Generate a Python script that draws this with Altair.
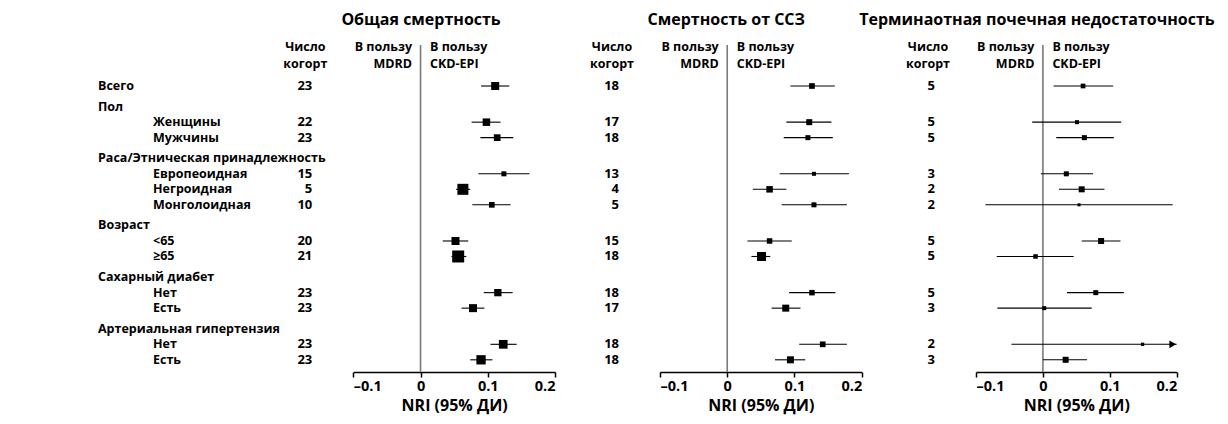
import altair as alt
import pandas as pd

# ---------------- data ----------------
panel_titles = ["Общая смертность", "Смертность от ССЗ", "Терминаотная почечная недостаточность"]

groups = ["Всего", "Пол", "Раса/Этническая принадлежность", "Возраст", "Сахарный диабет",
          "Артериальная гипертензия"]
subgroups = [[], ["Женщины", "Мужчины"], ["Европеоидная", "Негроидная", "Монголоидная"],
             ["<65", "≥65"], ["Нет", "Есть"], ["Нет", "Есть"]]

# order of data rows: Всего, Женщины, Мужчины, Европ., Негр., Монгол., <65, ≥65, СД нет, СД есть, АГ нет, АГ есть
n_all = [23, 22, 23, 15, 5, 10, 20, 21, 23, 23, 23, 23]
est_all = [0.111, 0.098, 0.114, 0.124, 0.063, 0.106, 0.052, 0.056, 0.115, 0.078, 0.123, 0.090]
lo_all = [0.090, 0.076, 0.089, 0.086, 0.053, 0.077, 0.033, 0.046, 0.094, 0.061, 0.104, 0.074]
hi_all = [0.132, 0.119, 0.138, 0.162, 0.074, 0.134, 0.071, 0.068, 0.137, 0.095, 0.143, 0.107]
w_all = [8, 7.5, 6.7, 5, 11, 5.7, 8, 12, 7.3, 8, 8.7, 9.3]

n_cvd = [18, 17, 18, 13, 4, 5, 15, 18, 18, 17, 18, 18]
est_cvd = [0.126, 0.122, 0.120, 0.129, 0.063, 0.129, 0.063, 0.051, 0.126, 0.087, 0.142, 0.094]
lo_cvd = [0.094, 0.088, 0.084, 0.078, 0.038, 0.081, 0.030, 0.036, 0.092, 0.066, 0.107, 0.071]
hi_cvd = [0.160, 0.155, 0.157, 0.181, 0.088, 0.178, 0.096, 0.064, 0.161, 0.109, 0.178, 0.116]
w_cvd = [5.7, 6, 5, 4, 6.5, 5, 5.5, 9, 5.5, 7, 5.7, 7]

n_esrd = [5, 5, 5, 3, 2, 2, 5, 5, 5, 3, 2, 3]
est_esrd = [0.060, 0.051, 0.062, 0.035, 0.058, 0.054, 0.087, -0.011, 0.079, 0.002, 0.149, 0.034]
lo_esrd = [0.016, -0.016, 0.020, -0.003, 0.024, -0.086, 0.058, -0.069, 0.036, -0.068, -0.047, 0.000]
hi_esrd = [0.105, 0.117, 0.106, 0.075, 0.092, 0.194, 0.116, 0.046, 0.121, 0.073, None, 0.066]
w_esrd = [4.7, 4, 5, 5, 6, 3, 6, 4.5, 5, 4, 3.3, 6]

panels = [
    (n_all, est_all, lo_all, hi_all, w_all),
    (n_cvd, est_cvd, lo_cvd, hi_cvd, w_cvd),
    (n_esrd, est_esrd, lo_esrd, hi_esrd, w_esrd),
]

ticks = [-0.1, 0, 0.1, 0.2]
x_domain = [-0.1, 0.2]

# ---------------- layout (styles / positions) ----------------
x_ranges = [[345.3, 547.0], [652.0, 853.7], [968.0, 1168.7]]
title_offsets = [0.5, -1, -6]
GAP = 1.333  # extra spacing before group headers (row units)
FONT = "Open Sans"

# row positions for labels and data
label_rows = []
data_pos = []
pos = 0.0
for gi, (g, subs) in enumerate(zip(groups, subgroups)):
    if gi > 0:
        pos += GAP
    label_rows.append({"label": g, "pos": pos, "lvl": 0})
    if not subs:
        data_pos.append(pos)
    for s in subs:
        pos += 1
        label_rows.append({"label": s, "pos": pos, "lvl": 1})
        data_pos.append(pos)
max_pos = pos

labels_df = pd.DataFrame(label_rows)

y_scale = alt.Scale(domain=[0, max_pos], range=[78, 78 + 15.5 * max_pos], nice=False, zero=False)


def label_layer(level, xpix):
    return alt.Chart(labels_df).transform_filter(f"datum.lvl == {level}").mark_text(
        align="left", baseline="middle", font=FONT, fontSize=12.5, fontWeight="bold", color="black"
    ).encode(
        x=alt.value(xpix),
        y=alt.Y("pos:Q", scale=y_scale, axis=None),
        text="label:N",
    )


labels_layers = [label_layer(0, 90), label_layer(1, 145)]

one = pd.DataFrame({"a": [0]})

panel_layers = []
for p, (n, est, lo, hi, w) in enumerate(panels):
    df = pd.DataFrame({"pos": data_pos, "n": n, "est": est, "lo": lo, "hi": hi, "w": w})
    xs = alt.Scale(domain=x_domain, range=x_ranges[p], nice=False, zero=False)
    axis = alt.Axis(
        orient="bottom", values=ticks, title="NRI (95% ДИ)",
        labelExpr="datum.value == 0 ? '0' : (datum.value < 0 ? '–' : '') + format(abs(datum.value), '.1f')",
        domainColor="black", domainWidth=1.5, tickColor="black", tickWidth=1.5, tickSize=5,
        labelFont=FONT, labelFontSize=14.5, labelFontWeight="bold", labelColor="black", labelPadding=2,
        titleFont=FONT, titleFontSize=16, titleFontWeight="bold", titleColor="black", titlePadding=5,
        grid=False,
    )
    base = alt.Chart(df).transform_calculate(
        hi_c="isValid(datum.hi) ? datum.hi : 0.2", sz="datum.w * datum.w"
    )
    y = alt.Y("pos:Q", scale=y_scale, axis=None)

    zero_line = alt.Chart(one).mark_rule(color="#7a7a7a", strokeWidth=1.6).encode(
        x=alt.X(datum=0, scale=xs, axis=axis), y=alt.value(37), y2=alt.value(364)
    )
    ci = base.mark_rule(color="black", strokeWidth=1.1).encode(
        x=alt.X("lo:Q", scale=xs, axis=axis), x2="hi_c:Q", y=y
    )
    sq = base.mark_square(color="black", filled=True, opacity=1).encode(
        x=alt.X("est:Q", scale=xs, axis=axis), y=y, size=alt.Size("sz:Q", scale=None, legend=None)
    )
    arrow = base.transform_filter("!isValid(datum.hi)").mark_point(
        shape="triangle-right", filled=True, color="black", size=60, opacity=1, xOffset=-4
    ).encode(x=alt.X(datum=0.2, scale=xs, axis=axis), y=y)
    counts = base.mark_text(
        align="right", baseline="middle", font=FONT, fontSize=13, fontWeight="bold", color="black",
        xOffset=-41,
    ).encode(x=alt.X(datum=-0.1, scale=xs, axis=axis), y=y, text="n:Q")

    def hdr(txt, xd, yv, align, dx):
        return alt.Chart(one).mark_text(
            align=align, baseline="middle", font=FONT, fontSize=12.5, fontWeight="bold",
            color="black", xOffset=dx
        ).encode(x=alt.X(datum=xd, scale=xs, axis=axis), y=alt.value(yv), text=alt.value(txt))

    title = alt.Chart(one).mark_text(
        align="center", baseline="middle", font=FONT, fontSize=16, fontWeight="bold",
        color="black", xOffset=title_offsets[p]
    ).encode(x=alt.X(datum=0, scale=xs, axis=axis), y=alt.value(12), text=alt.value(panel_titles[p]))

    headers = [
        hdr("Число", -0.1, 38.7, "center", -48),
        hdr("когорт", -0.1, 55.7, "center", -48),
        hdr("В пользу", 0, 38.7, "right", -8.5),
        hdr("MDRD", 0, 55.7, "right", -8.5),
        hdr("В пользу", 0, 38.7, "left", 9.5),
        hdr("CKD-EPI", 0, 55.7, "left", 9.5),
    ]
    panel_layers.append(alt.layer(zero_line, ci, sq, arrow, counts, title, *headers))

chart = alt.layer(*labels_layers, *panel_layers).resolve_scale(x="independent").properties(
    width=1212, height=364,
    autosize=alt.AutoSizeParams(type="none"),
    padding={"left": 0, "top": 0, "right": 0, "bottom": 44},
).configure_view(stroke=None)

chart.save("out.html", embed_options={"renderer": "svg", "actions": False})
